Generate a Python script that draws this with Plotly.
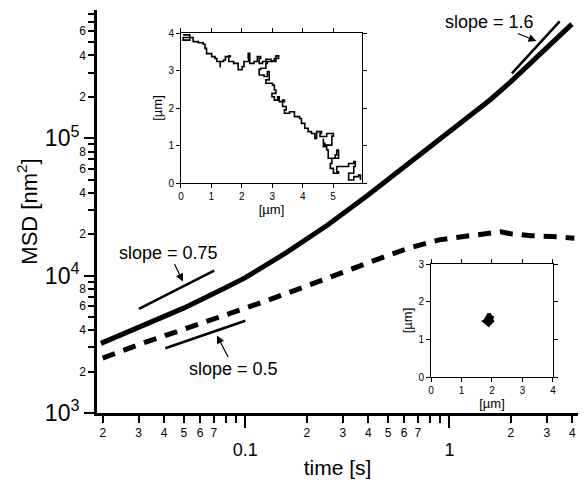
import plotly.graph_objects as go

# ---- main MSD curves
t_free = [0.0196, 0.0316, 0.0501, 0.0794, 0.100, 0.158, 0.251, 0.398, 0.631,
          1.000, 1.259, 1.585, 1.995, 2.512, 3.162, 3.981]
msd_free = [3214, 4315, 5821, 8128, 9661, 14620, 23170, 38460, 65310,
            110900, 144500, 190500, 257000, 354800, 489800, 676100]

t_conf = [0.0200, 0.0316, 0.0501, 0.0794, 0.126, 0.200, 0.316, 0.447, 0.631,
          0.891, 1.259, 1.585, 1.778, 1.995, 2.512, 3.162, 4.093]
msd_conf = [2512, 3236, 4074, 5129, 6531, 8414, 10960, 13180, 15850,
            18200, 19500, 20420, 20800, 20180, 19500, 19280, 18710]

# slope guide lines
t_s075 = [0.0301, 0.0703]
msd_s075 = [5715, 10860]
t_s05 = [0.0405, 0.100]
msd_s05 = [2960, 4693]
t_s16 = [2.024, 3.47]
msd_s16 = [296000, 708000]

# ---- inset 1: trajectory [um]
traj_x = [0.07, 0.29, 0.29, 0.07, 0.07, 0.23, 0.40, 0.57, 0.73, 0.79, 0.84,
          0.96, 1.01, 1.12, 1.18, 1.29, 1.29, 1.40, 1.46, 1.62, 1.57, 1.73,
          1.88, 1.88, 2.01, 2.07, 2.23, 2.21, 2.26, 2.40, 2.51, 2.62, 2.57,
          2.68, 2.79, 2.96, 3.07, 3.21, 3.12, 2.84, 2.79, 2.62, 2.57, 2.73,
          2.84, 2.90, 2.79, 3.01, 3.07, 3.12, 2.99, 3.07, 3.18, 3.23, 3.40,
          3.34, 3.46, 3.40, 3.57, 3.73, 3.90, 3.96, 4.07, 4.18, 4.29, 4.40,
          4.46, 4.62, 4.57, 4.79, 5.01, 4.96, 4.73, 4.68, 4.68, 4.79, 4.84,
          5.07, 5.12, 5.18, 4.96, 4.91, 5.01, 5.18, 5.12, 5.34, 5.51, 5.68,
          5.73, 5.68, 5.51, 5.68, 5.84, 5.90]
traj_y = [3.95, 3.95, 3.81, 3.81, 3.88, 3.88, 3.77, 3.74, 3.70, 3.59, 3.45,
          3.45, 3.37, 3.32, 3.24, 3.08, 3.24, 3.28, 3.37, 3.39, 3.24, 3.19,
          3.10, 3.02, 3.10, 3.24, 3.32, 3.46, 3.19, 3.24, 3.37, 3.32, 3.19,
          3.24, 3.30, 3.26, 3.32, 3.39, 3.24, 3.19, 3.06, 3.03, 2.88, 2.84,
          2.97, 2.75, 2.66, 2.61, 2.48, 2.39, 2.30, 2.21, 2.30, 2.17, 2.21,
          2.04, 1.95, 1.86, 1.90, 1.77, 1.72, 1.59, 1.46, 1.37, 1.32, 1.19,
          1.37, 1.32, 1.24, 1.32, 1.25, 1.01, 1.06, 1.19, 0.97, 0.88, 0.66,
          0.75, 0.88, 0.66, 0.52, 0.39, 0.26, 0.30, 0.44, 0.44, 0.52, 0.57,
          0.44, 0.26, 0.08, 0.17, 0.21, 0.08]

# ---- inset 2: confined particle [um]
blob_x = [1.80, 1.95, 1.85, 2.00, 1.78, 1.92, 2.02, 1.82, 1.98, 1.88, 1.76,
          1.95, 2.03, 1.85, 1.90, 1.98, 1.80, 1.93, 1.87]
blob_y = [1.45, 1.40, 1.58, 1.52, 1.50, 1.65, 1.45, 1.62, 1.58, 1.40, 1.48,
          1.55, 1.60, 1.52, 1.68, 1.48, 1.56, 1.42, 1.50]

# tick values / labels
x_lab = [0.02, 0.03, 0.04, 0.05, 0.06, 0.07, 0.2, 0.3, 0.4, 0.5, 0.6, 0.7, 2, 3, 4]
x_lab_txt = ['2', '3', '4', '5', '6', '7', '2', '3', '4', '5', '6', '7', '2', '3', '4']
x_unlab = [0.08, 0.09, 0.8, 0.9]
x_major = [0.1, 1]
x_major_txt = ['0.1', '1']
y_lab = [2e3, 4e3, 6e3, 8e3, 2e4, 4e4, 6e4, 8e4, 2e5, 4e5, 6e5, 8e5]
y_lab_txt = ['2', '4', '6', '8', '2', '4', '6', '8', '2', '4', '6', '8']
y_unlab = [3e3, 5e3, 7e3, 9e3, 3e4, 5e4, 7e4, 9e4, 3e5, 5e5, 7e5]
y_major = [1e3, 1e4, 1e5]
y_major_txt = ['10<sup>3</sup>', '10<sup>4</sup>', '10<sup>5</sup>']

FONT = 'Arial, Liberation Sans, sans-serif'

fig = go.Figure()
fig.add_trace(go.Scatter(x=t_free, y=msd_free, mode='lines', line=dict(color='black', width=5)))
fig.add_trace(go.Scatter(x=t_conf, y=msd_conf, mode='lines',
                         line=dict(color='black', width=5, dash='13px,9px')))
for tx, my in [(t_s075, msd_s075), (t_s05, msd_s05), (t_s16, msd_s16)]:
    fig.add_trace(go.Scatter(x=tx, y=my, mode='lines', line=dict(color='black', width=2.5)))
# dummy trace so the overlay axes (big decade labels) get drawn
fig.add_trace(go.Scatter(x=[None], y=[None], xaxis='x3', yaxis='y3'))
fig.add_trace(go.Scatter(x=traj_x, y=traj_y, mode='lines', xaxis='x4', yaxis='y4',
                         line=dict(color='black', width=1.6, shape='hv')))
fig.add_trace(go.Scatter(x=blob_x, y=blob_y, mode='lines', xaxis='x5', yaxis='y5',
                         line=dict(color='black', width=4)))

rng_x = [-1.727, 0.63]
rng_y = [3, 5.933]
main_ax = dict(type='log', showgrid=False, zeroline=False, ticks='outside', automargin=False,
               tickwidth=2, tickcolor='black', tickfont=dict(size=12, color='black'))
# the page body adds an 8px margin, so the figure is sized to fit inside the window
fig.update_layout(
    width=570, height=471, showlegend=False,
    margin=dict(l=89, r=0, t=2, b=66),
    plot_bgcolor='white', paper_bgcolor='white',
    font=dict(family=FONT, color='black'),
    xaxis=dict(main_ax, range=rng_x, tickvals=x_lab, ticktext=x_lab_txt, ticklen=7,
               minor=dict(tickmode='array', tickvals=x_unlab, ticklen=7, tickwidth=2,
                          tickcolor='black', ticks='outside', showgrid=False),
               showline=True, linewidth=2.5, linecolor='black', anchor='y'),
    yaxis=dict(main_ax, range=rng_y, tickvals=y_lab, ticktext=y_lab_txt, ticklen=6,
               minor=dict(tickmode='array', tickvals=y_unlab, ticklen=6, tickwidth=2,
                          tickcolor='black', ticks='outside', showgrid=False),
               showline=True, linewidth=2.5, linecolor='black', anchor='x'),
    xaxis3=dict(main_ax, range=rng_x, overlaying='x', anchor='y', side='bottom',
                tickvals=x_major, ticktext=x_major_txt, ticklen=14, tickfont=dict(size=18),
                ticklabelstandoff=6,
                title=dict(text='time [s]', font=dict(size=21), standoff=2)),
    yaxis3=dict(main_ax, range=rng_y, overlaying='y', anchor='x', side='left',
                tickvals=y_major, ticktext=y_major_txt, ticklen=12, tickfont=dict(size=23),
                title=dict(text='MSD [nm<sup>2</sup>]', font=dict(size=22), standoff=1)),
)

inset_ax = dict(showgrid=False, zeroline=False, showline=True, linewidth=1, linecolor='black',
                mirror='allticks', ticks='outside', ticklen=4, tickwidth=1, tickcolor='black',
                tickfont=dict(size=10), dtick=1, automargin=False)
fig.update_layout(
    xaxis4=dict(inset_ax, domain=[0.1746, 0.5509], range=[0, 5.95], anchor='y4',
                title=dict(text='[µm]', font=dict(size=13), standoff=2)),
    yaxis4=dict(inset_ax, domain=[0.5707, 0.9429], range=[0, 4], anchor='x4',
                title=dict(text='[µm]', font=dict(size=13), standoff=2)),
    xaxis5=dict(inset_ax, domain=[0.6944, 0.948], range=[0, 4], anchor='y5',
                title=dict(text='[µm]', font=dict(size=13), standoff=0)),
    yaxis5=dict(inset_ax, domain=[0.0893, 0.3697], range=[0, 3], anchor='x5',
                title=dict(text='[µm]', font=dict(size=13), standoff=2)),
)

# slope labels with arrows: head in log10 axis units, label offset in px
notes = [('slope = 0.75', -1.306, 3.957, -14, -29),
         ('slope = 0.5', -1.139, 3.564, 17, 33),
         ('slope = 1.6', 0.426, 5.707, -47, -19)]
for txt, hx, hy, ax, ay in notes:
    fig.add_annotation(x=hx, y=hy, xref='x', yref='y', text=txt, showarrow=True,
                       ax=ax, ay=ay, arrowhead=2, arrowsize=1.3, arrowwidth=1.2,
                       arrowcolor='black', font=dict(size=18, family=FONT, color='black'))

fig.write_html("out.html")
